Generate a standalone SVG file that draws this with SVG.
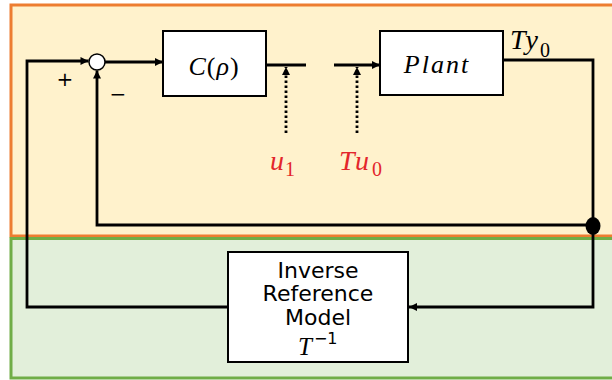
<svg xmlns="http://www.w3.org/2000/svg" width="612" height="380" viewBox="0 0 612 380">
<defs>
<style>
.panel-o{fill:#FFF2CC;stroke:#ED7D31;stroke-width:3}
.panel-g{fill:#E2EFDA;stroke:#70AD47;stroke-width:3}
.box{fill:#FFFFFF;stroke:#000000;stroke-width:2}
.wire{fill:none;stroke:#000000;stroke-width:2.8;stroke-linejoin:miter}
.dot{fill:none;stroke:#000000;stroke-width:2.8;stroke-dasharray:2.5 2.5}
.math{font-family:"Liberation Serif","DejaVu Serif",serif;font-style:italic;fill:#000000}
.up{font-style:normal}
.red{fill:#E3262B}
.lbl{font-family:"DejaVu Sans","Noto Sans",sans-serif;font-size:22px;fill:#000000;text-anchor:middle}
.sign{font-family:"DejaVu Sans",sans-serif;font-size:20px;fill:#000000;text-anchor:middle}
</style>
<marker id="arr" viewBox="0 0 10 10" refX="10" refY="5" markerWidth="9" markerHeight="8" markerUnits="userSpaceOnUse" orient="auto">
<path d="M0,0 L10,5 L0,10 z" fill="#000000"/>
</marker>
</defs>
<rect class="panel-o" x="11" y="5" width="610" height="231"/>
<rect class="panel-g" x="11" y="238.5" width="610" height="139.5"/>

<g id="connectors">
<path class="wire" d="M228,307 H27 V61 H88.5" marker-end="url(#arr)"/>
<path class="wire" d="M105,62 H163" marker-end="url(#arr)"/>
<path class="wire" d="M266,65 H306"/>
<path class="wire" d="M334,65 H380" marker-end="url(#arr)"/>
<path class="wire" d="M503,60 H593 V307 H409" marker-end="url(#arr)"/>
<path class="wire" d="M593,225 H97 V70.5" marker-end="url(#arr)"/>
<path class="dot" d="M286,133 V67" marker-end="url(#arr)"/>
<path class="dot" d="M357,133 V67" marker-end="url(#arr)"/>
<ellipse cx="593" cy="226" rx="7.5" ry="9" fill="#000000"/>
</g>

<g id="sum">
<circle cx="97" cy="62" r="8" fill="#FFFFFF" stroke="#000000" stroke-width="1.5"/>
<text class="sign" x="65" y="86">+</text>
<text class="sign" x="118" y="101">−</text>
</g>

<g id="controller">
<rect class="box" x="163" y="31" width="103" height="65"/>
<text class="math" x="214" y="75" font-size="26" text-anchor="middle" letter-spacing="1">C<tspan class="up">(</tspan>ρ<tspan class="up">)</tspan></text>
</g>

<g id="plant">
<rect class="box" x="380" y="31" width="123" height="64"/>
<text class="math" x="437" y="73" font-size="26" text-anchor="middle" letter-spacing="2">Plant</text>
</g>

<g id="inverse">
<rect class="box" x="228" y="252" width="180" height="110"/>
<text class="lbl" x="318" y="278">Inverse</text>
<text class="lbl" x="318" y="301">Reference</text>
<text class="lbl" x="318" y="325">Model</text>
<text class="math" x="298" y="355" font-size="25">T<tspan class="up" font-family="DejaVu Sans, sans-serif" font-size="16" dx="2" dy="-11">−1</tspan></text>
</g>

<g id="labels">
<text class="math" x="510" y="49" font-size="28" letter-spacing="2">Ty</text>
<text class="math up" x="540" y="57" font-size="20">0</text>
<text class="math red" x="270" y="170" font-size="28">u</text>
<text class="math red up" x="285" y="176" font-size="20">1</text>
<text class="math red" x="339" y="170" font-size="28" letter-spacing="2">Tu</text>
<text class="math red up" x="372" y="176" font-size="20">0</text>
</g>
</svg>
